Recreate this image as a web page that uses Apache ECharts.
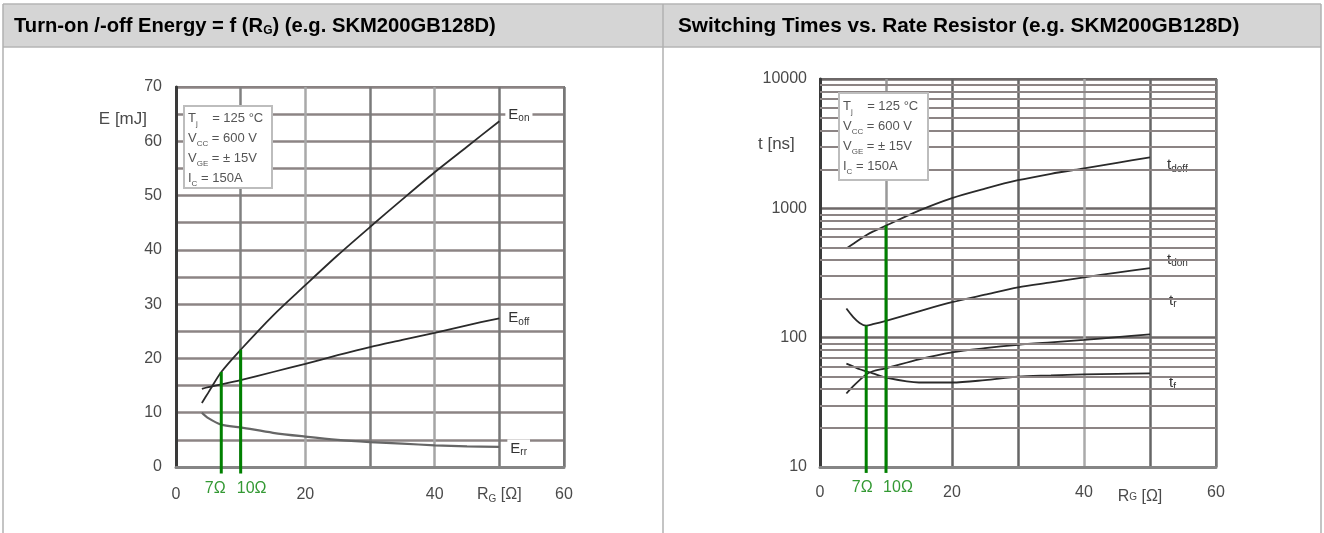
<!DOCTYPE html>
<html>
<head>
<meta charset="utf-8">
<script src="https://cdn.jsdelivr.net/npm/echarts/dist/echarts.min.js"></script>
<style>
html,body{margin:0;padding:0;background:#fff;}
#c{width:1324px;height:533px;}
</style>
</head>
<body>
<div id="c"></div>
<script>
// ---------- Left chart: E = f(RG) ----------
const rgE  = [4, 5, 7, 10, 15, 20, 25, 30, 35, 40, 45, 50];
const eOn  = [11.8, 13.7, 17.5, 21.6, 27.9, 33.5, 39.0, 44.2, 49.3, 54.3, 59.0, 63.7];
const eOff = [14.4, 14.7, 15.2, 16.0, 17.5, 19.0, 20.6, 22.1, 23.4, 24.7, 26.1, 27.4];
const eRr  = [10.0, 9.0, 7.8, 7.3, 6.3, 5.6, 5.0, 4.6, 4.3, 4.0, 3.8, 3.7];

// ---------- Right chart: switching times ----------
const rgT   = [4, 5, 6, 7, 8, 10, 15, 20, 25, 30, 35, 40, 45, 50];
const tdOff = [490, 530, 575, 620, 660, 735, 960, 1200, 1420, 1650, 1850, 2040, 2250, 2480];
const tdOn  = [168, 145, 130, 124, 127, 135, 160, 188, 215, 245, 268, 293, 318, 345];
const tR    = [37, 42, 47, 52, 55, 58, 68, 77, 83, 88, 92, 96, 101, 106];
const tF    = [63, 60, 57, 55, 53, 49, 45, 45, 47, 50, 51, 52, 52.5, 53];

// ---------- Marked gate resistors ----------
const markR      = [7, 10];
const markRLabel = ['7Ω', '10Ω'];
const markE      = [17.5, 21.6];   // E_on at 7 / 10 Ω
const markT      = [124, 735];     // t_don at 7 Ω, t_doff at 10 Ω
const markEBase  = -1.2;
const markTBase  = 9;

// ---------- Tick labels ----------
const xTickShown = [0, 20, 40, 60];
const yTickE     = [0, 10, 20, 30, 40, 50, 60, 70];
const tMinorGrid = [20,30,40,50,60,70,80,90,200,300,400,500,600,700,800,900,2000,3000,4000,5000,6000,7000,8000,9000];

const titleLeft  = ['Turn-on /-off Energy = f (R', 'G', ') (e.g. SKM200GB128D)'];
const titleRight = 'Switching Times vs. Rate Resistor (e.g. SKM200GB128D)';
const condLines  = [['T','j','    = 125 °C'], ['V','CC',' = 600 V'], ['V','GE',' = ± 15V'], ['I','C',' = 150A']];

const FONT = '"Liberation Sans", Arial, sans-serif';
const TXT = '#4a4a4a';
const GRID = '#8c8484';

const chart = echarts.init(document.getElementById('c'));

const axRich = {
  m: {fontSize: 16, color: TXT, fontFamily: FONT, lineHeight: 18},
  s: {fontSize: 10, color: TXT, fontFamily: FONT, verticalAlign: 'bottom', lineHeight: 9}
};
const axRichR = {
  m: {fontSize: 16, color: TXT, fontFamily: FONT, lineHeight: 18},
  rm: {fontSize: 16, color: TXT, fontFamily: FONT, lineHeight: 18, padding: [8, 0, 0, 0]},
  s: {fontSize: 10, color: TXT, fontFamily: FONT, verticalAlign: 'bottom', lineHeight: 9, padding: [8, 0, 0, 0]},
  e: {fontSize: 16, color: TXT, fontFamily: FONT, lineHeight: 18, padding: [8, 20, 0, 0]}
};

function xFmt(v) {
  if (xTickShown.indexOf(v) >= 0) return '{m|' + v + '}';
  if (v === 50) return '{m|R}{s|G}{m| [Ω]}';
  return '';
}
function xFmtR(v) {
  if (xTickShown.indexOf(v) >= 0) return '{m|' + v + '}';
  if (v === 50) return '{rm|R}{s|G}{e| [Ω]}';
  return '';
}

const lblRich = {
  m: {fontSize: 15, color: '#333', fontFamily: FONT, lineHeight: 17},
  s: {fontSize: 10, color: '#333', fontFamily: FONT, verticalAlign: 'bottom', lineHeight: 8}
};

function curve(xs, ys, idx, color, width, main, subTxt, off) {
  return {
    type: 'line', xAxisIndex: idx, yAxisIndex: idx,
    data: xs.map((x, i) => [x, ys[i]]),
    smooth: 0.3, symbol: 'none', showSymbol: false,
    lineStyle: {color: color, width: width},
    z: 4, silent: true,
    endLabel: {
      show: true, formatter: '{m|' + main + '}{s|' + subTxt + '}',
      rich: lblRich, offset: off, backgroundColor: '#fff', padding: [1, 3, 1, 3], distance: 6
    }
  };
}

function markerSeries(idx, base, tops, offs) {
  const out = [];
  markR.forEach((r, i) => {
    out.push({
      type: 'line', xAxisIndex: idx, yAxisIndex: idx, clip: false, symbol: 'none', silent: true,
      data: [[r, base], [r, tops[i]]],
      lineStyle: {color: '#008000', width: 3}, z: 6
    });
  });
  out.push({
    type: 'scatter', xAxisIndex: idx, yAxisIndex: idx, clip: false, symbolSize: 0, silent: true, z: 6,
    data: markR.map((r, i) => ({
      value: [r, base],
      label: {show: true, position: 'bottom', formatter: markRLabel[i], offset: offs[i],
              color: '#008000', fontSize: 16, fontFamily: FONT}
    }))
  });
  return out;
}

function condText() {
  return condLines.map(l => '{c|' + l[0] + '}{cs|' + l[1] + '}{c|' + l[2] + '}').join('\n');
}
const condRich = {
  c: {fontSize: 13, fill: '#555', fontFamily: FONT, lineHeight: 20},
  cs: {fontSize: 8, fill: '#555', fontFamily: FONT, verticalAlign: 'bottom', lineHeight: 9}
};

const option = {
  animation: false,
  backgroundColor: '#fff',
  grid: [
    {left: 176, top: 87, width: 388, height: 380, show: true, borderColor: '#777', borderWidth: 2},
    {left: 820, top: 79, width: 396, height: 388, show: true, borderColor: '#666', borderWidth: 2}
  ],
  xAxis: [
    {gridIndex: 0, type: 'value', min: 0, max: 60, interval: 10,
     axisLine: {show: true, onZero: false, lineStyle: {color: '#858585', width: 3}},
     axisTick: {show: false},
     axisLabel: {formatter: xFmt, rich: axRich, margin: 19},
     splitLine: {show: true, lineStyle: {color: ['#777', '#808080', '#a9a9a9', '#7a7a7a', '#a5a5a5', '#777', '#777'], width: 2.5}}},
    {gridIndex: 1, type: 'value', min: 0, max: 60, interval: 10,
     axisLine: {show: true, onZero: false, lineStyle: {color: '#858585', width: 3}},
     axisTick: {show: false},
     axisLabel: {formatter: xFmtR, rich: axRichR, margin: 17},
     splitLine: {show: true, lineStyle: {color: ['#666', '#999', '#666', '#666', '#aaa', '#666', '#777'], width: 2.5}}}
  ],
  yAxis: [
    {gridIndex: 0, type: 'value', min: 0, max: 70, interval: 5,
     axisLine: {show: true, lineStyle: {color: '#3a3a3a', width: 3}},
     axisTick: {show: false},
     axisLabel: {formatter: v => (yTickE.indexOf(v) >= 0 ? String(v) : ''), color: TXT, fontSize: 16, fontFamily: FONT, margin: 14},
     splitLine: {show: true, lineStyle: {color: GRID, width: 2.5}}},
    {gridIndex: 1, type: 'log', logBase: 10, min: 10, max: 10000,
     axisLine: {show: true, lineStyle: {color: '#3a3a3a', width: 3}},
     axisTick: {show: false},
     axisLabel: {formatter: v => String(v), color: TXT, fontSize: 16, fontFamily: FONT, margin: 13},
     splitLine: {show: true, lineStyle: {color: '#6e6868', width: 2.5}}}
  ],
  series: [
    {type: 'line', xAxisIndex: 1, yAxisIndex: 1, data: [], silent: true, z: 1,
     markLine: {silent: true, symbol: 'none', label: {show: false}, animation: false,
                lineStyle: {color: GRID, width: 2.2, type: 'solid'},
                data: tMinorGrid.map(v => ({yAxis: v}))}},
    curve(rgE, eOn, 0, '#2a2a2a', 1.8, 'E', 'on', [0, -6]),
    curve(rgE, eOff, 0, '#2a2a2a', 1.8, 'E', 'off', [0, 0]),
    curve(rgE, eRr, 0, '#666', 2.2, 'E', 'rr', [2, 2]),
    curve(rgT, tdOff, 1, '#2a2a2a', 1.8, 't', 'doff', [8, 8]),
    curve(rgT, tdOn, 1, '#2a2a2a', 1.8, 't', 'don', [8, -8]),
    curve(rgT, tR, 1, '#2a2a2a', 1.8, 't', 'r', [10, -34]),
    curve(rgT, tF, 1, '#2a2a2a', 1.8, 't', 'f', [10, 10])
  ].concat(
    markerSeries(0, markEBase, markE, [[-6, 2], [11, 2]]),
    markerSeries(1, markTBase, markT, [[-4, 2], [12, 2]])
  ),
  graphic: [
    {type: 'rect', z: 0, shape: {x: 3, y: 4, width: 1318, height: 43}, style: {fill: '#d5d5d5'}},
    {type: 'line', z: 1, shape: {x1: 3, y1: 4, x2: 1321, y2: 4}, style: {stroke: '#b5b5b5', lineWidth: 1.5}},
    {type: 'line', z: 1, shape: {x1: 3, y1: 47, x2: 1321, y2: 47}, style: {stroke: '#b5b5b5', lineWidth: 1.5}},
    {type: 'line', z: 1, shape: {x1: 3, y1: 4, x2: 3, y2: 533}, style: {stroke: '#b0b0b0', lineWidth: 1.5}},
    {type: 'line', z: 1, shape: {x1: 663, y1: 4, x2: 663, y2: 533}, style: {stroke: '#b0b0b0', lineWidth: 1.5}},
    {type: 'line', z: 1, shape: {x1: 1321, y1: 4, x2: 1321, y2: 533}, style: {stroke: '#b0b0b0', lineWidth: 1.5}},
    {type: 'text', z: 2, x: 14, y: 26, style: {
      text: '{t|' + titleLeft[0] + '}{ts|' + titleLeft[1] + '}{t|' + titleLeft[2] + '}',
      verticalAlign: 'middle',
      rich: {
        t: {fontSize: 20.2, fontWeight: 'bold', fill: '#000', fontFamily: FONT, lineHeight: 22},
        ts: {fontSize: 12, fontWeight: 'bold', fill: '#000', fontFamily: FONT, verticalAlign: 'bottom', lineHeight: 12}
      }}},
    {type: 'text', z: 2, x: 678, y: 26, style: {
      text: titleRight, verticalAlign: 'middle', fontSize: 20.8, fontWeight: 'bold', fill: '#000', fontFamily: FONT}},
    {type: 'text', z: 2, x: 147, y: 119, style: {
      text: 'E [mJ]', align: 'right', verticalAlign: 'middle', fontSize: 17, fill: TXT, fontFamily: FONT}},
    {type: 'text', z: 2, x: 758, y: 144, style: {
      text: 't [ns]', align: 'left', verticalAlign: 'middle', fontSize: 17, fill: TXT, fontFamily: FONT}},
    {type: 'group', z: 20, x: 184, y: 106, children: [
      {type: 'rect', z: 20, shape: {x: 0, y: 0, width: 88, height: 82}, style: {fill: '#fff', stroke: '#bdbdbd', lineWidth: 2}},
      {type: 'text', z: 21, x: 4, y: 2, style: {text: condText(), rich: condRich}}
    ]},
    {type: 'group', z: 20, x: 839, y: 93, children: [
      {type: 'rect', z: 20, shape: {x: 0, y: 0, width: 89, height: 87}, style: {fill: '#fff', stroke: '#bdbdbd', lineWidth: 2}},
      {type: 'text', z: 21, x: 4, y: 3, style: {text: condText(), rich: condRich}}
    ]}
  ]
};
chart.setOption(option);
</script>
</body>
</html>
